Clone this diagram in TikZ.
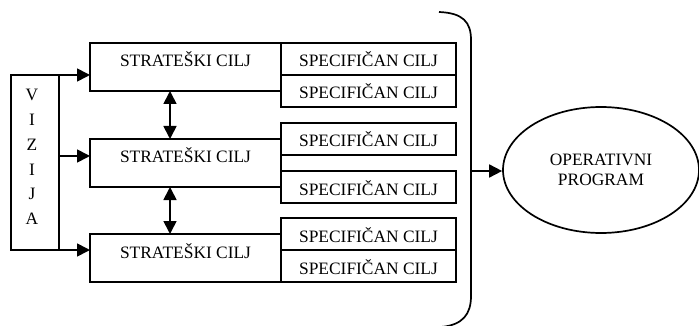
\documentclass[tikz,border=0pt]{standalone}
\usepackage{fontspec}
\setmainfont{Liberation Serif}
\usetikzlibrary{arrows.meta,positioning,shapes.geometric}
\tikzset{>={Triangle[length=13pt,width=13pt]}}
\tikzset{
  stratbox/.style={draw, inner sep=0pt, outer sep=0pt, minimum width=191pt,
    text height=24pt, text depth=24pt},
  specbox/.style={draw, inner sep=0pt, outer sep=0pt, minimum width=175pt,
    text height=24pt, text depth=8pt},
}

\begin{document}
\begin{tikzpicture}[x=1pt, y=-1pt, line width=1.7pt,
    font=\fontsize{17.4}{20}\selectfont]
  \useasboundingbox (0,0) rectangle (699,326);
  % vizija
  \node[draw, inner sep=0pt, outer sep=0pt, minimum width=48pt, minimum height=175pt,
    label={[align=center, font=\fontsize{17.4}{24.8}\selectfont, xshift=-3pt, yshift=5.5pt]center:V\\I\\Z\\I\\J\\A}]
    (viz) at (35,162.5) {};
  % strateski ciljevi
  \node[stratbox, anchor=north west] (s1) at (90,43) {STRATEŠKI CILJ};
  \node[stratbox, anchor=north west] (s2) at (90,139) {STRATEŠKI CILJ};
  \node[stratbox, anchor=north west] (s3) at (90,234) {STRATEŠKI CILJ};
  % specificni ciljevi
  \node[specbox, anchor=north west] (c1a) at (s1.north east) {SPECIFIČAN CILJ};
  \node[specbox, below=0pt of c1a] (c1b) {SPECIFIČAN CILJ};
  \node[specbox, anchor=north west] (c2a) at ([yshift=16pt]s2.north east) {SPECIFIČAN CILJ};
  \node[specbox, below=16pt of c2a] (c2b) {SPECIFIČAN CILJ};
  \node[specbox, anchor=south west] (c3b) at (s3.south east) {SPECIFIČAN CILJ};
  \node[specbox, above=0pt of c3b] (c3a) {SPECIFIČAN CILJ};
  % operativni program
  \node[draw, ellipse, inner sep=0pt, minimum width=196pt, minimum height=126pt,
    align=center] (op) at (601,170) {OPERATIVNI\\PROGRAM};
  % strelice
  \draw[->] (viz.north east) -- (viz.north east -| s1.west);
  \draw[->] ([yshift=6.5pt]viz.east) -- ([yshift=6.5pt]viz.east -| s2.west);
  \draw[->] (viz.south east) -- (viz.south east -| s3.west);
  \draw[<->] ([xshift=-15.5pt]s1.south) -- ([xshift=-15.5pt]s2.north);
  \draw[<->] ([xshift=-15.5pt]s2.south) -- ([xshift=-15.5pt]s3.north);
  % zagrada
  \draw (439,12) .. controls (463,13) and (471,22) .. (471,40) -- (471,296)
    .. controls (471,314) and (463,325) .. (441,327);
  \coordinate (br) at (471,171);
  \draw[->] (br) -- (br -| op.west);
\end{tikzpicture}
\end{document}
